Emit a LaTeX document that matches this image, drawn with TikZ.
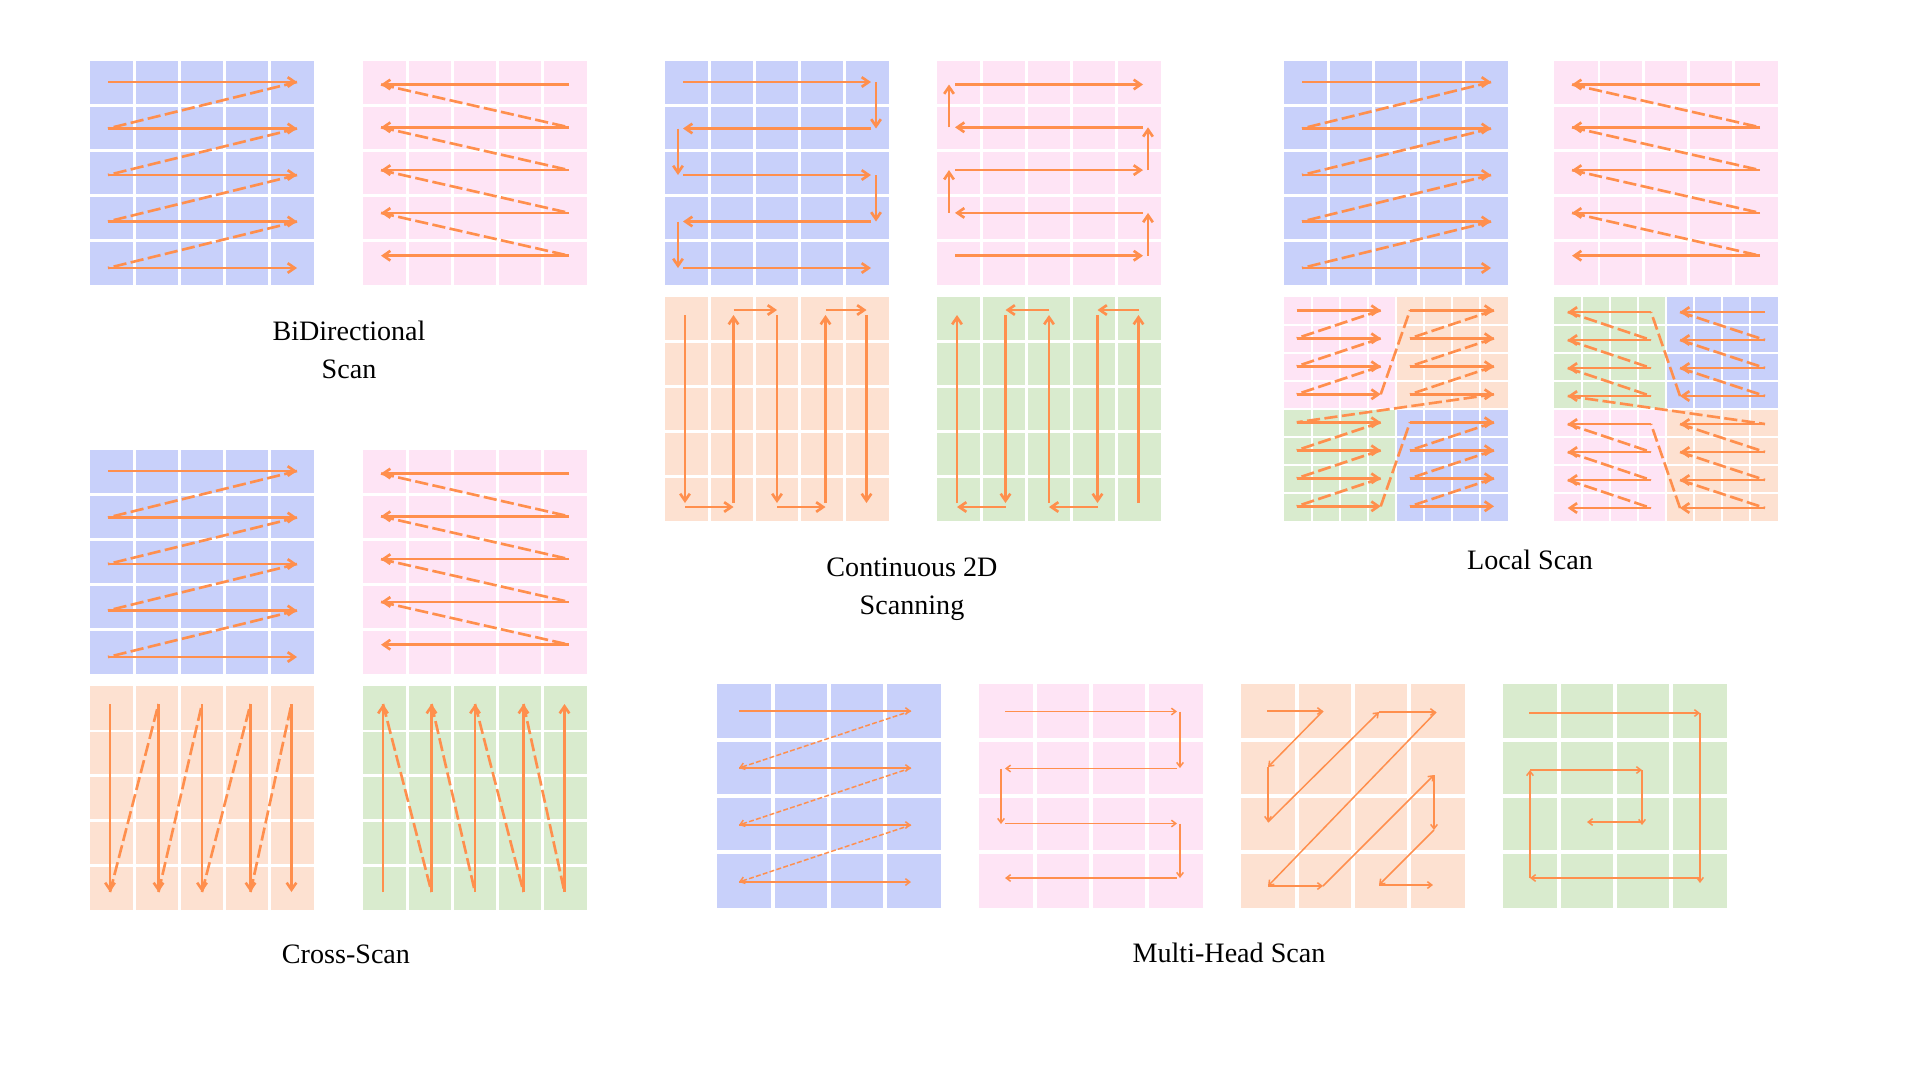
\documentclass[tikz,border=0pt]{standalone}
\usepackage{fontspec}
\setmainfont{Liberation Serif}
\usetikzlibrary{arrows.meta}

\definecolor{scanorange}{RGB}{255,143,77}
\definecolor{cellblue}{RGB}{200,208,250}
\definecolor{cellpink}{RGB}{254,228,245}
\definecolor{cellpeach}{RGB}{253,225,209}
\definecolor{cellgreen}{RGB}{217,235,206}

\tikzset{
  scan/.style={draw=scanorange,line width=1.5pt,-{Straight Barb[length=4pt,width=5.5pt]}},
  jump/.style={draw=scanorange,line width=1.5pt,dash pattern=on 7.5pt off 2.5pt},
  thin scan/.style={draw=scanorange,line width=0.85pt,-{Straight Barb[length=2.5pt,width=3.8pt]}},
  thin jump/.style={thin scan,dash pattern=on 2.8pt off 1.3pt},
  gap/.style={draw=white,line width=#1},
  caption/.style={font=\fontsize{16}{21.4}\selectfont,align=center,inner sep=0pt}
}

\newcommand{\gridlines}[3]{%
  \foreach \k in {1,...,#1}
    \draw[gap=#3] (\k*#2,0) -- (\k*#2,224) (0,\k*#2) -- (224,\k*#2);
}
\newcommand{\rowsright}{%
  \foreach \i in {0,...,4} \draw[scan] (18,{21+46.5*\i}) -- (207,{21+46.5*\i});
  \foreach \i in {0,...,3} \draw[jump] (207,{21+46.5*\i}) -- (18,{67.5+46.5*\i});
}
\newcommand{\rowsleft}{%
  \foreach \i in {0,...,4} \draw[scan] (206,{23.5+42.8*\i}) -- (18,{23.5+42.8*\i});
  \foreach \i in {0,...,3} \draw[jump] (18,{23.5+42.8*\i}) -- (206,{66.3+42.8*\i});
}
\newcommand{\localquad}[3]{%
  \foreach \k in {0,...,3} \draw[scan] (#1,{#3+28*\k}) -- (#2,{#3+28*\k});
  \foreach \k in {0,1,2} \draw[jump] (#2,{#3+28*\k}) -- (#1,{#3+28+28*\k});
}

\begin{document}
\begin{tikzpicture}[x=0.02cm,y=-0.02cm]
  \path[use as bounding box,fill=white] (0,0) rectangle (1920,1080);

  % BiDirectional
  \begin{scope}[shift={(90,61)}]
    \fill[cellblue] (0,0) rectangle (224,224);
    \gridlines{4}{44.8}{1.5pt}
    \rowsright
  \end{scope}
  \begin{scope}[shift={(363,61)}]
    \fill[cellpink] (0,0) rectangle (224,224);
    \gridlines{4}{44.8}{1.5pt}
    \rowsleft
  \end{scope}
  \node[caption](BiDir)at(349, 350){BiDirectional\\Scan};

  % Cross-Scan
  \begin{scope}[shift={(90,450)}]
    \fill[cellblue] (0,0) rectangle (224,224);
    \gridlines{4}{44.8}{1.5pt}
    \rowsright
  \end{scope}
  \begin{scope}[shift={(363,450)}]
    \fill[cellpink] (0,0) rectangle (224,224);
    \gridlines{4}{44.8}{1.5pt}
    \rowsleft
  \end{scope}
  \begin{scope}[shift={(90,686)}]
    \fill[cellpeach] (0,0) rectangle (224,224);
    \gridlines{4}{44.8}{1.5pt}
    \foreach \c in {20,68.5,112,160.5,201.5} \draw[scan] (\c,18) -- (\c,206);
    \foreach \c/\d in {20/68.5,68.5/112,112/160.5,160.5/201.5} \draw[jump] (\c,206) -- (\d,18);
  \end{scope}
  \begin{scope}[shift={(363,686)}]
    \fill[cellgreen] (0,0) rectangle (224,224);
    \gridlines{4}{44.8}{1.5pt}
    \foreach \c in {20,68.5,112,160.5,201.5} \draw[scan] (\c,206) -- (\c,18);
    \foreach \c/\d in {20/68.5,68.5/112,112/160.5,160.5/201.5} \draw[jump] (\c,18) -- (\d,206);
  \end{scope}
  \node[caption](Cross)at(346, 954){Cross-Scan};

  % Continuous 2D
  \begin{scope}[shift={(665,61)}]
    \fill[cellblue] (0,0) rectangle (224,224);
    \gridlines{4}{44.8}{1.5pt}
    \foreach \i in {0,2,4} \draw[scan] (18,{21+46.5*\i}) -- (206,{21+46.5*\i});
    \foreach \i in {1,3} \draw[scan] (206,{21+46.5*\i}) -- (18,{21+46.5*\i});
    \foreach \i in {0,2} \draw[scan] (211,{21+46.5*\i}) -- (211,{67.5+46.5*\i});
    \foreach \i in {1,3} \draw[scan] (13,{21+46.5*\i}) -- (13,{67.5+46.5*\i});
  \end{scope}
  \begin{scope}[shift={(937,61)}]
    \fill[cellpink] (0,0) rectangle (224,224);
    \gridlines{4}{44.8}{1.5pt}
    \foreach \i in {0,2,4} \draw[scan] (18,{23.5+42.8*\i}) -- (206,{23.5+42.8*\i});
    \foreach \i in {1,3} \draw[scan] (206,{23.5+42.8*\i}) -- (18,{23.5+42.8*\i});
    \foreach \i in {1,3} \draw[scan] (12,{23.5+42.8*\i}) -- (12,{-19.3+42.8*\i});
    \foreach \i in {2,4} \draw[scan] (211,{23.5+42.8*\i}) -- (211,{-19.3+42.8*\i});
  \end{scope}
  \begin{scope}[shift={(665,297)}]
    \fill[cellpeach] (0,0) rectangle (224,224);
    \gridlines{4}{44.8}{1.5pt}
    \foreach \c in {20,112,201.5} \draw[scan] (\c,18) -- (\c,206);
    \foreach \c in {68.5,160.5} \draw[scan] (\c,206) -- (\c,18);
    \foreach \c/\d in {20/68.5,112/160.5} \draw[scan] (\c,210) -- (\d,210);
    \foreach \c/\d in {68.5/112,160.5/201.5} \draw[scan] (\c,13) -- (\d,13);
  \end{scope}
  \begin{scope}[shift={(937,297)}]
    \fill[cellgreen] (0,0) rectangle (224,224);
    \gridlines{4}{44.8}{1.5pt}
    \foreach \c in {20,112,201.5} \draw[scan] (\c,206) -- (\c,18);
    \foreach \c in {68.5,160.5} \draw[scan] (\c,18) -- (\c,206);
    \foreach \c/\d in {201.5/160.5,112/68.5} \draw[scan] (\c,13) -- (\d,13);
    \foreach \c/\d in {160.5/112,68.5/20} \draw[scan] (\c,210) -- (\d,210);
  \end{scope}
  \node[caption](Cont)at(912, 589){Continuous 2D\\Scanning};

  % Local Scan
  \begin{scope}[shift={(1284,61)}]
    \fill[cellblue] (0,0) rectangle (224,224);
    \gridlines{4}{44.8}{1.5pt}
    \rowsright
  \end{scope}
  \begin{scope}[shift={(1554,61)}]
    \fill[cellpink] (0,0) rectangle (224,224);
    \gridlines{4}{44.8}{1.5pt}
    \rowsleft
  \end{scope}
  \begin{scope}[shift={(1284,297)}]
    \fill[cellpink] (0,0) rectangle (112,112);
    \fill[cellpeach] (112,0) rectangle (224,112);
    \fill[cellgreen] (0,112) rectangle (112,224);
    \fill[cellblue] (112,112) rectangle (224,224);
    \gridlines{7}{28}{1.3pt}
    \localquad{12.7}{96.7}{13.3}
    \localquad{126}{210}{13.3}
    \localquad{12.7}{96.7}{125.3}
    \localquad{126}{210}{125.3}
    \draw[jump] (96.7,97.3) -- (126,13.3);
    \draw[jump] (210,97.3) -- (12.7,125.3);
    \draw[jump] (96.7,209.3) -- (126,125.3);
  \end{scope}
  \begin{scope}[shift={(1554,297)}]
    \fill[cellgreen] (0,0) rectangle (112,112);
    \fill[cellblue] (112,0) rectangle (224,112);
    \fill[cellpink] (0,112) rectangle (112,224);
    \fill[cellpeach] (112,112) rectangle (224,224);
    \gridlines{7}{28}{1.3pt}
    \localquad{211}{126}{15}
    \localquad{97}{13.7}{15}
    \localquad{211}{126}{127}
    \localquad{97}{13.7}{127}
    \draw[jump] (126,99) -- (97,15);
    \draw[jump] (13.7,99) -- (211,127);
    \draw[jump] (126,211) -- (97,127);
  \end{scope}
  \node[caption](Local)at(1530, 560){Local Scan};

  % Multi-Head Scan
  \begin{scope}[shift={(717,684)}]
    \fill[cellblue] (0,0) rectangle (224,224);
    \gridlines{3}{56}{2pt}
    \foreach \i in {0,...,3} \draw[thin scan] (22,{27+57*\i}) -- (194,{27+57*\i});
    \foreach \i in {0,1,2} \draw[thin jump] (194,{27+57*\i}) -- (22,{84+57*\i});
  \end{scope}
  \begin{scope}[shift={(979,684)}]
    \fill[cellpink] (0,0) rectangle (224,224);
    \gridlines{3}{56}{2pt}
    \draw[thin scan] (26,27.5) -- (198,27.5);
    \draw[thin scan] (201,27.5) -- (201,84);
    \draw[thin scan] (198,84.5) -- (26,84.5);
    \draw[thin scan] (22,84.5) -- (22,140);
    \draw[thin scan] (26,139.5) -- (198,139.5);
    \draw[thin scan] (201,139.5) -- (201,194);
    \draw[thin scan] (198,194) -- (26,194);
  \end{scope}
  \begin{scope}[shift={(1241,684)}]
    \fill[cellpeach] (0,0) rectangle (224,224);
    \gridlines{3}{56}{2pt}
    \foreach \a/\b/\c/\d in {26/27/82/27,82/27/27/83,27/83/27/138,27/138/138/28,
        138/28/195/28,195/28/27/202,27/202/82/202,82/202/193/91,
        193/91/193/146,193/146/138/201,138/201/192/201}
      \draw[thin scan] (\a,\b) -- (\c,\d);
  \end{scope}
  \begin{scope}[shift={(1503,684)}]
    \fill[cellgreen] (0,0) rectangle (224,224);
    \gridlines{3}{56}{2pt}
    \foreach \a/\b/\c/\d in {26/29/197/29,197/29/197/199,197/194/27/194,
        27/194/27/86,27/86/139/86,139/86/139/141,139/138/84/138}
      \draw[thin scan] (\a,\b) -- (\c,\d);
  \end{scope}
  \node[caption](Multi)at(1229, 953){Multi-Head Scan};
\end{tikzpicture}
\end{document}
